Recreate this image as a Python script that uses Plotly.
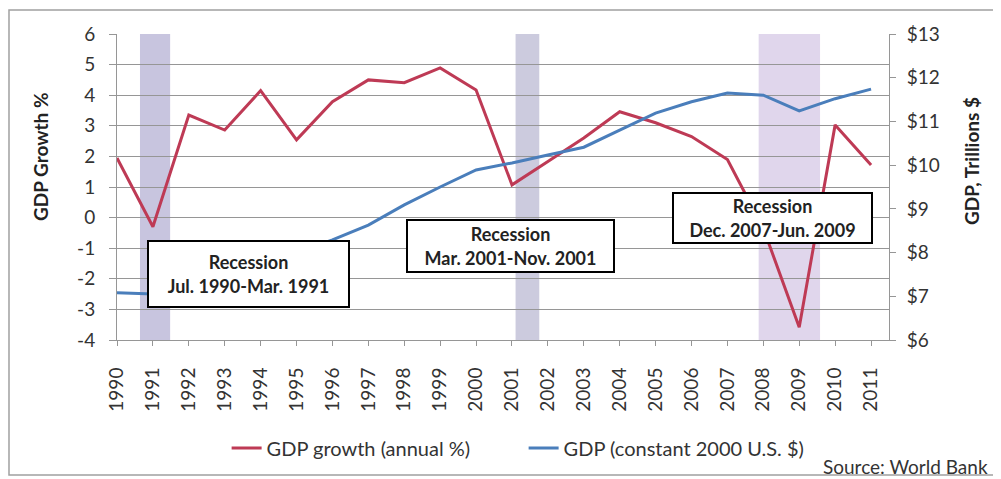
import plotly.graph_objects as go

years = list(range(1990, 2012))
gdp_growth = [1.95, -0.3, 3.35, 2.86, 4.15, 2.54, 3.79, 4.5, 4.41, 4.89, 4.17, 1.07,
              1.83, 2.6, 3.46, 3.1, 2.65, 1.9, -0.35, -3.58, 3.03, 1.72]
gdp_trillions = [7.08, 7.05, 7.3, 7.5, 7.8, 8.0, 8.29, 8.63, 9.09, 9.5, 9.89, 10.05,
                 10.23, 10.41, 10.8, 11.19, 11.45, 11.65, 11.6, 11.24, 11.52, 11.74]

left_ticks = [-4, -3, -2, -1, 0, 1, 2, 3, 4, 5, 6]
left_labels = ["-4", "-3", "-2", "-1", "0", "1", "2", "3", "4", "5", "6"]
right_ticks = [6, 7, 8, 9, 10, 11, 12, 13]
right_labels = ["$6", "$7", "$8", "$9", "$10", "$11", "$12", "$13"]

rec_start = [1990.64, 2001.10, 2007.87]
rec_end = [1991.48, 2001.76, 2009.58]
rec_colors = ["rgb(200,197,223)", "rgb(204,203,222)", "rgb(224,214,236)"]
rec_text = ["<b>Recession<br>Jul. 1990-Mar. 1991</b>",
            "<b>Recession<br>Mar. 2001-Nov. 2001</b>",
            "<b>Recession<br>Dec. 2007-Jun. 2009</b>"]
rec_label_x = [1993.66, 2000.96, 2008.26]
rec_label_y = [-1.84, -0.93, -0.01]
rec_label_w = [199, 205, 197]
rec_label_h = [64, 50, 48]

FONT = "Lato"
RED = "#BE3A55"
BLUE = "#4A7EBB"
GRID = "#969696"

fig = go.Figure()
fig.add_trace(go.Scatter(x=years, y=gdp_growth, mode="lines", name="GDP growth (annual %)",
                         line=dict(color=RED, width=3), yaxis="y"))
fig.add_trace(go.Scatter(x=years, y=gdp_trillions, mode="lines", name="GDP (constant 2000 U.S. $)",
                         line=dict(color=BLUE, width=3), yaxis="y2"))

shapes = []
for s, e, c in zip(rec_start, rec_end, rec_colors):
    shapes.append(dict(type="rect", xref="x", yref="paper", x0=s, x1=e, y0=0, y1=1,
                       fillcolor=c, line=dict(width=0), layer="below"))
# outer frame
shapes.append(dict(type="rect", xref="paper", yref="paper", x0=-0.1399, x1=1.145,
                   y0=-0.4415, y1=1.0784, line=dict(color="#a0a0a0", width=1.5),
                   fillcolor="rgba(0,0,0,0)", layer="below"))

annotations = []
for t, x, y, w, h in zip(rec_text, rec_label_x, rec_label_y, rec_label_w, rec_label_h):
    annotations.append(dict(text=t, x=x, y=y, xref="x", yref="y", showarrow=False,
                            width=w, height=h, bgcolor="white", bordercolor="black",
                            borderwidth=2, borderpad=0, align="center", valign="middle",
                            font=dict(family=FONT, size=18, color="#222")))
annotations.append(dict(text="<b>GDP Growth %</b>", x=-0.0997, y=0.598, xref="paper", yref="paper",
                        textangle=-90, showarrow=False, xanchor="center", yanchor="middle",
                        font=dict(family=FONT, size=19, color="#222")))
annotations.append(dict(text="<b>GDP, Trillions $</b>", x=1.1075, y=0.585, xref="paper", yref="paper",
                        textangle=-90, showarrow=False, xanchor="center", yanchor="middle",
                        font=dict(family=FONT, size=19, color="#222")))
annotations.append(dict(text="Source: World Bank", x=1.131, y=-0.412, xref="paper", yref="paper",
                        showarrow=False, xanchor="right", yanchor="middle",
                        font=dict(family=FONT, size=19, color="#333")))

# the page body has an 8px margin, so the figure is shifted by 8px; compensate
fig.update_layout(
    width=993, height=471,
    margin=dict(l=109, r=112, t=26, b=139),
    paper_bgcolor="white", plot_bgcolor="white",
    font=dict(family=FONT, size=18, color="#333"),
    showlegend=True,
    legend=dict(orientation="h", x=0.142, xanchor="left", y=-0.353, yanchor="middle",
                font=dict(family=FONT, size=20, color="#333"), entrywidth=252,
                entrywidthmode="pixels", bgcolor="rgba(0,0,0,0)"),
    xaxis=dict(range=[1990, 2011.5], tickvals=years, ticktext=[str(y) for y in years],
               tickangle=-90, ticks="outside", ticklen=5, tickcolor=GRID, automargin=False,
               showline=True, linecolor=GRID, linewidth=1, showgrid=False, zeroline=False,
               ticklabelstandoff=14,
               tickfont=dict(family=FONT, size=19, color="#333")),
    yaxis=dict(range=[-4, 6], tickvals=left_ticks, ticktext=left_labels, automargin=False,
               ticks="outside", ticklen=7, tickcolor=GRID, showline=True, linecolor=GRID,
               showgrid=True, gridcolor=GRID, gridwidth=1, zeroline=False,
               ticklabelstandoff=10,
               tickfont=dict(family=FONT, size=19, color="#333")),
    yaxis2=dict(range=[6, 13], tickvals=right_ticks, ticktext=right_labels, overlaying="y",
                side="right", ticks="outside", ticklen=6, tickcolor=GRID, showline=True,
                linecolor=GRID, showgrid=False, zeroline=False, automargin=False,
                ticklabelstandoff=7,
                tickfont=dict(family=FONT, size=19, color="#333")),
    shapes=shapes, annotations=annotations,
)

fig.write_html("out.html")
